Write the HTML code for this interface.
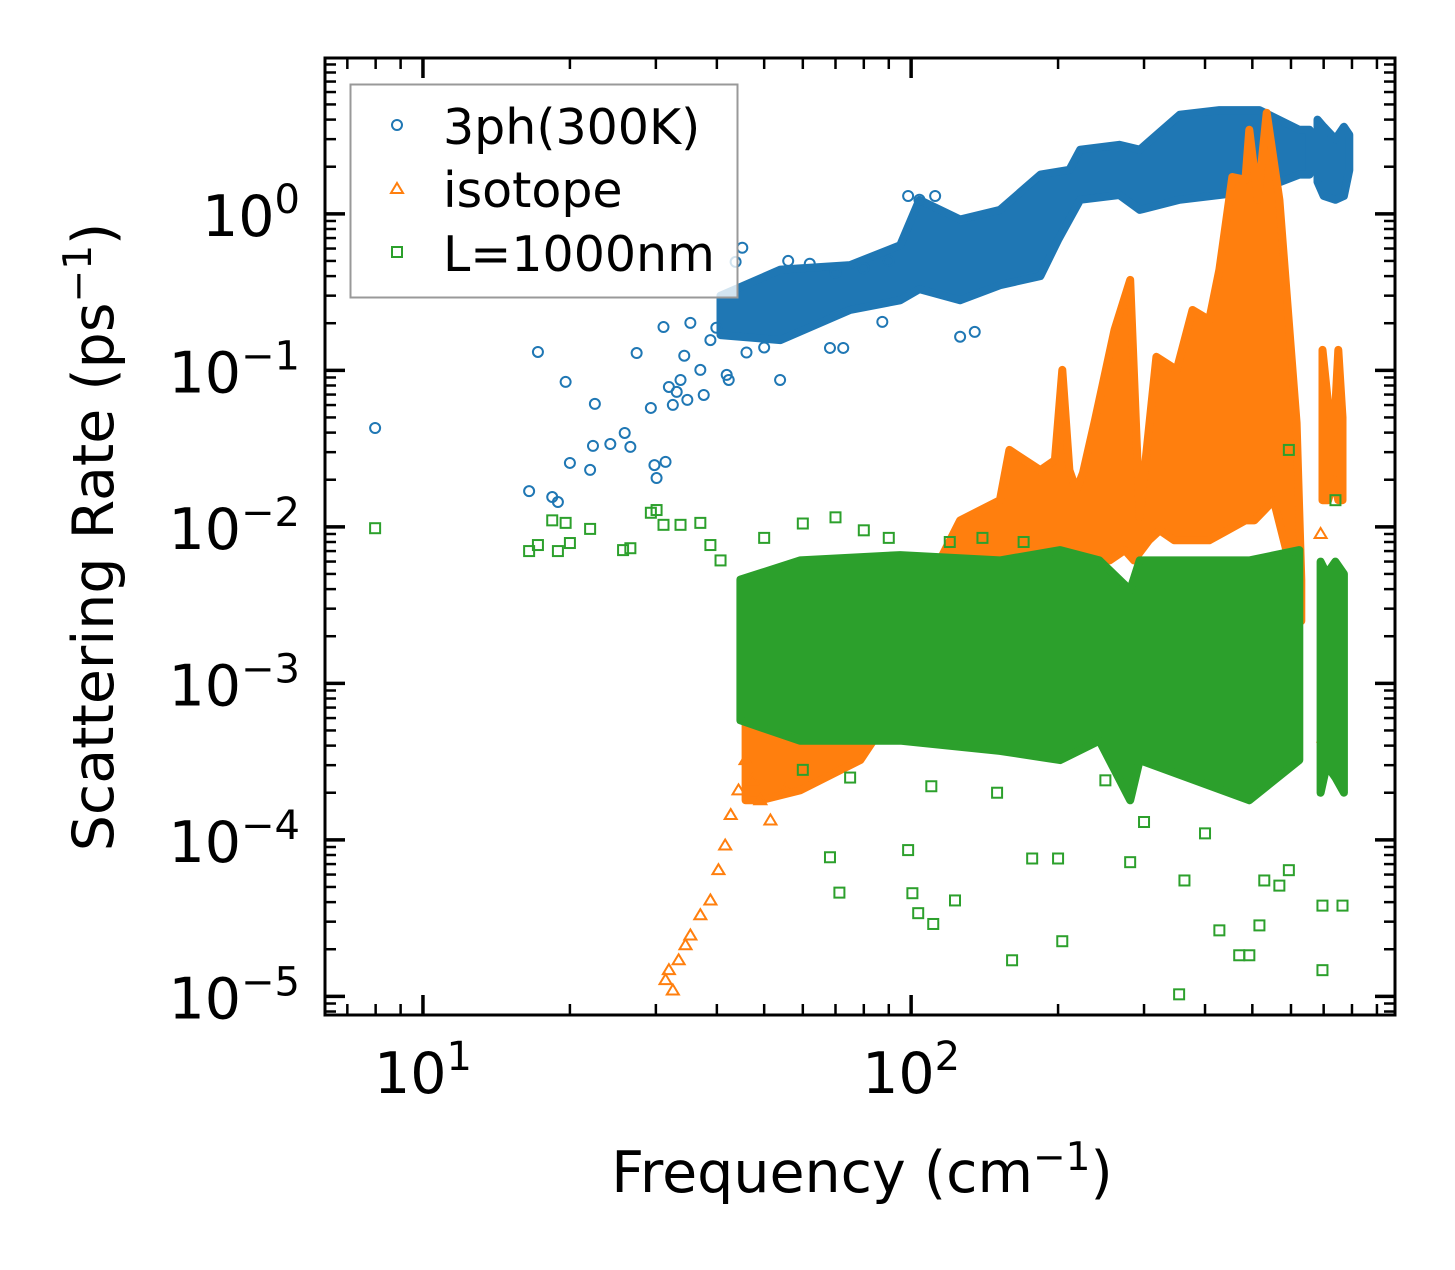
<!DOCTYPE html>
<html><head><meta charset="utf-8"><style>
html,body{margin:0;padding:0;background:#fff;}
svg text{font-family:"DejaVu Sans","Liberation Sans",sans-serif;}
</style></head><body>
<svg id="chart" width="1455" height="1265" xmlns="http://www.w3.org/2000/svg">
<rect width="1455" height="1265" fill="#fff"/>
<defs><clipPath id="clip"><rect x="325" y="58" width="1070" height="957"/></clipPath></defs>
<g id="marks" clip-path="url(#clip)"></g>
<g id="axes"></g>
<text x="862" y="1192" text-anchor="middle" font-size="57">Frequency (cm<tspan dy="-22" font-size="39">−1</tspan><tspan dy="22">)</tspan></text>
<text transform="translate(113,537) rotate(-90)" text-anchor="middle" font-size="57">Scattering Rate (ps<tspan dy="-22" font-size="39">−1</tspan><tspan dy="22">)</tspan></text>
<g>
<rect x="350.5" y="84.5" width="387" height="213" fill="#fff" fill-opacity="0.8" stroke="#999" stroke-width="2"/>
<circle cx="397" cy="125" r="5" fill="none" stroke="#1f77b4" stroke-width="2"/>
<text x="443" y="144" font-size="49">3ph(300K)</text>
<path d="M397,183 L403,193 L391,193 Z" fill="none" stroke="#ff7f0e" stroke-width="2"/>
<text x="443" y="207" font-size="49">isotope</text>
<rect x="392" y="247" width="10" height="10" fill="none" stroke="#2ca02c" stroke-width="2"/>
<text x="443" y="271" font-size="49">L=1000nm</text>
</g>
</svg>
<script>
// axis domain
const xDomain = [6.3, 980];
const yDomain = [7.6e-6, 9.9];
const xTickExps = [1, 2];
const yTickExps = [0, -1, -2, -3, -4, -5];

// dense bands (frequency, rate)
const blueHiF = [40.7,54,75,95,104,126,152,184,211,222,267,294,355,428,517,624,655];
const blueHi  = [0.30,0.44,0.47,0.63,1.23,0.92,1.06,1.78,1.91,2.57,2.76,2.57,4.3,4.6,4.6,3.44,3.44];
const blueLoF = [40.7,54,75,95,104,126,152,184,200,222,267,294,355,428,517,624,655];
const blueLo  = [0.168,0.156,0.243,0.28,0.33,0.28,0.35,0.40,0.68,1.23,1.32,1.06,1.23,1.32,1.42,1.78,1.78];
const blue2F = [680,700,740,770,790];
const blue2Hi = [4.0,3.6,3.0,3.6,3.2];
const blue2Lo = [1.6,1.3,1.23,1.3,1.9];

const orangeHiF = [45.8,49.1,59.2,78.7,95,114.5,126,152,159,184,197,204,211,218,225,238,261,281,294,318,350,377,408,428,455,484,493,513,535,568,616,630];
const orangeHi  = [5.8e-4,1.63e-3,3.4e-3,1.89e-3,2.5e-3,6.1e-3,0.011,0.0148,0.031,0.023,0.0267,0.1006,0.023,0.0172,0.0221,0.048,0.181,0.378,0.01156,0.122,0.1006,0.243,0.21,0.44,1.72,1.65,3.44,1.23,4.42,1.23,0.046,4.6e-3];
const orangeLoF = [45.8,49.1,59.2,78.7,95,114.5,126,152,159,184,202,222,238,255,274,286,307,323,346,380,408,445,484,505,529,553,594,630];
const orangeLo  = [1.79e-4,1.79e-4,2.07e-4,3.23e-4,7.8e-4,1.05e-3,1.89e-3,2.5e-3,2.5e-3,3.4e-3,3.4e-3,3.94e-3,6.1e-3,6.1e-3,7.1e-3,6.1e-3,8.2e-3,9.5e-3,8.2e-3,8.2e-3,8.2e-3,9.5e-3,0.011,0.011,0.0128,0.0148,6.1e-3,2.5e-3];
const orange2F = [696,715,735,750,765];
const orange2Hi = [0.135,0.06,0.04,0.135,0.05];
const orange2Lo = [0.0148,0.0148,0.02,0.0148,0.0148];

const greenHiF = [44.7,59.2,95,152,202,243,281,294,493,624];
const greenHi  = [4.6e-3,6.1e-3,6.6e-3,6.1e-3,7.1e-3,6.1e-3,3.94e-3,6.1e-3,6.1e-3,7.1e-3];
const greenLoF = [44.7,59.2,95,152,202,243,281,294,493,624];
const greenLo  = [5.8e-4,4.3e-4,4.3e-4,3.7e-4,3.23e-4,4.3e-4,1.79e-4,3.23e-4,1.79e-4,3.23e-4];
const green2F = [690,710,740,770];
const green2Hi = [6e-3,5e-3,6e-3,5e-3];
const green2Lo = [2e-4,3e-4,2.5e-4,2e-4];

// sparse scatter points
const blueF = [7.98,16.5,17.2,18.4,18.9,19.6,20.0,22.0,22.3,22.5,24.2,25.9,26.6,27.4,29.3,29.8,30.1,31.1,31.4,31.9,32.5,33.1,33.7,34.3,34.8,35.3,37.0,37.6,38.8,39.9,41.9,42.3,43.7,45.1,53.9,68.2,72.6,87.3,98.6,104,112,126,135,46,50,56,62,70,80,90];
const blueR = [0.0428,0.0169,0.131,0.0155,0.0144,0.0843,0.0256,0.0231,0.0329,0.061,0.0338,0.0398,0.0324,0.129,0.0575,0.0248,0.0205,0.189,0.026,0.0783,0.0601,0.0728,0.0868,0.124,0.0647,0.201,0.1006,0.0696,0.156,0.187,0.0935,0.0868,0.493,0.607,0.0868,0.139,0.139,0.204,1.30,1.23,1.30,0.164,0.176,0.13,0.14,0.5,0.48,0.42,0.45,0.5];
const orangeF = [31.4,31.9,32.5,33.4,34.5,35.3,37.0,38.8,40.3,41.6,42.7,44.3,45.8,47.3,49.1,51.5,55.3,690,700];
const orangeR = [1.27e-5,1.47e-5,1.09e-5,1.7e-5,2.12e-5,2.45e-5,3.3e-5,4.1e-5,6.4e-5,9.2e-5,1.44e-4,2.07e-4,3.23e-4,2.4e-4,1.79e-4,1.33e-4,2.07e-4,9e-3,4.5e-4];
const greenF = [7.98,16.5,17.2,18.4,18.9,19.6,20.0,22.0,25.7,26.6,29.3,30.1,31.1,33.7,37.0,38.8,40.7,68.2,71.3,98.6,100.6,103.4,111,123,161,177,200,204,281,354,363,428,470,493,517,529,568,594,696,696,765,594,740,50,60,70,80,90,120,140,170,60,75,110,150,250,300,400];
const greenR = [0.0098,0.0070,0.00765,0.0110,0.0070,0.0106,0.00788,0.0097,0.0071,0.0073,0.0123,0.0128,0.0103,0.0103,0.0106,0.00765,0.0061,7.74e-5,4.6e-5,8.6e-5,4.56e-5,3.4e-5,2.9e-5,4.1e-5,1.7e-5,7.6e-5,7.6e-5,2.25e-5,7.2e-5,1.03e-5,5.5e-5,2.64e-5,1.83e-5,1.83e-5,2.84e-5,5.5e-5,5.1e-5,6.4e-5,1.47e-5,3.8e-5,3.8e-5,0.031,0.0148,0.0085,0.0105,0.0115,0.0095,0.0085,0.008,0.0085,0.008,2.8e-4,2.5e-4,2.2e-4,2.0e-4,2.4e-4,1.3e-4,1.1e-4];

const L=325,R=1395,T=58,B=1015;
const lx0=Math.log10(xDomain[0]), lx1=Math.log10(xDomain[1]);
const ly0=Math.log10(yDomain[0]), ly1=Math.log10(yDomain[1]);
function xScale(v){return L+(Math.log10(v)-lx0)/(lx1-lx0)*(R-L);}
function yScale(v){return B-(Math.log10(v)-ly0)/(ly1-ly0)*(B-T);}
const NS='http://www.w3.org/2000/svg';
const marks=document.getElementById('marks');
const axes=document.getElementById('axes');
function mk(tag,attrs,parent){const e=document.createElementNS(NS,tag);for(const k in attrs)e.setAttribute(k,attrs[k]);parent.appendChild(e);return e;}

function band(hf,hv,lf,lv,color,name){
  let pts=[];
  for(let i=0;i<hf.length;i++)pts.push(xScale(hf[i]).toFixed(1)+','+yScale(hv[i]).toFixed(1));
  for(let i=lf.length-1;i>=0;i--)pts.push(xScale(lf[i]).toFixed(1)+','+yScale(lv[i]).toFixed(1));
  const p=mk('polygon',{points:pts.join(' '),fill:color,stroke:color,'stroke-width':8,'stroke-linejoin':'round'},marks);
  
  
}
function points(fs,rs,color,shape,name){
  for(let i=0;i<fs.length;i++){
    const x=xScale(fs[i]),y=yScale(rs[i]);let e;
    if(shape==='c')e=mk('circle',{cx:x,cy:y,r:5,fill:'none',stroke:color,'stroke-width':2},marks);
    else if(shape==='t')e=mk('path',{d:`M${x},${y-6} L${x+6},${y+4} L${x-6},${y+4} Z`,fill:'none',stroke:color,'stroke-width':2},marks);
    else e=mk('rect',{x:x-5,y:y-5,width:10,height:10,fill:'none',stroke:color,'stroke-width':2},marks);
    
    
  }
}
band(blueHiF,blueHi,blueLoF,blueLo,'#1f77b4','band-3ph');
band(blue2F,blue2Hi,blue2F,blue2Lo,'#1f77b4','band-3ph-high');
points(blueF,blueR,'#1f77b4','c','point-3ph');
band(orangeHiF,orangeHi,orangeLoF,orangeLo,'#ff7f0e','band-isotope');
band(orange2F,orange2Hi,orange2F,orange2Lo,'#ff7f0e','band-isotope-high');
points(orangeF,orangeR,'#ff7f0e','t','point-isotope');
band(greenHiF,greenHi,greenLoF,greenLo,'#2ca02c','band-boundary');
band(green2F,green2Hi,green2F,green2Lo,'#2ca02c','band-boundary-high');
points(greenF,greenR,'#2ca02c','s','point-boundary');

// frame
const fr=mk('rect',{x:L,y:T,width:R-L,height:B-T,fill:'none',stroke:'#000','stroke-width':3},axes);


// x ticks
for(let e=0;e<=3;e++){for(let m=1;m<10;m++){const v=m*Math.pow(10,e);if(v<xDomain[0]||v>xDomain[1])continue;
  const x=xScale(v),len=m===1?20:11;
  mk('line',{x1:x,y1:B,x2:x,y2:B-len,stroke:'#000','stroke-width':m===1?3.5:2.5},axes);
  mk('line',{x1:x,y1:T,x2:x,y2:T+len,stroke:'#000','stroke-width':m===1?3.5:2.5},axes);}}
for(const e of xTickExps){const t=mk('text',{x:xScale(Math.pow(10,e)),y:1093,'text-anchor':'middle','font-size':57},axes);
  
  
  t.innerHTML='10<tspan dy="-23" font-size="40">'+e+'</tspan>';}
// y ticks
for(let e=-6;e<=1;e++){for(let m=1;m<10;m++){const v=m*Math.pow(10,e);if(v<yDomain[0]||v>yDomain[1])continue;
  const y=yScale(v),len=m===1?20:11;
  mk('line',{x1:L,y1:y,x2:L+len,y2:y,stroke:'#000','stroke-width':m===1?3.5:2.5},axes);
  mk('line',{x1:R,y1:y,x2:R-len,y2:y,stroke:'#000','stroke-width':m===1?3.5:2.5},axes);}}
for(const e of yTickExps){const t=mk('text',{x:300,y:yScale(Math.pow(10,e))+22,'text-anchor':'end','font-size':57},axes);
  
  
  const s=e<0?'−'+(-e):''+e;
  t.innerHTML='10<tspan dy="-23" font-size="40">'+s+'</tspan>';}
</script>
</body></html>
